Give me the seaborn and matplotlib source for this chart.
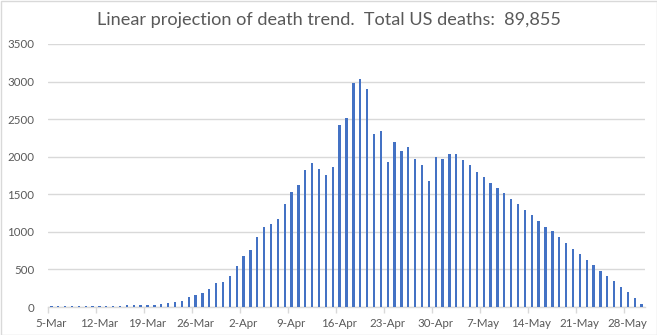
import numpy as np
import pandas as pd
import matplotlib
matplotlib.use("Agg")
import matplotlib.pyplot as plt
import matplotlib.transforms as mtransforms
import seaborn as sns

# ---- data ----
dates = pd.date_range("2020-03-05", "2020-05-30", freq="D")
deaths = [14, 15, 15, 16, 16, 17, 17, 18, 18, 19, 19, 20, 20, 21, 21, 22,
          40, 54, 67, 85, 134, 161, 188, 241, 322, 335, 415, 550,
          684, 765, 925, 1060, 1110, 1165, 1365, 1525, 1630, 1820, 1915, 1835, 1755, 1860,
          2420, 2515, 2975, 3040, 2905, 2300, 2340, 1935, 2200, 2070, 2125, 1965, 1895, 1680,
          1990, 1965, 2030, 2030, 1950, 1885, 1800, 1735, 1655, 1585, 1520, 1435, 1370, 1290,
          1220, 1140, 1070, 1005, 925, 855, 775, 705, 625, 560, 475, 410, 340, 260, 195, 115, 45]
tick_labels = ["5-Mar", "12-Mar", "19-Mar", "26-Mar", "2-Apr", "9-Apr", "16-Apr",
               "23-Apr", "30-Apr", "7-May", "14-May", "21-May", "28-May"]
y_ticks = [0, 500, 1000, 1500, 2000, 2500, 3000, 3500]
title = "Linear projection of death trend.  Total US deaths:  89,855"

df = pd.DataFrame({"date": [f"{d.day}-{d.strftime('%b')}" for d in dates], "deaths": deaths})

sns.set_theme(style="white")
plt.rcParams["font.family"] = ["Lato", "DejaVu Sans"]

fig = plt.figure(figsize=(6.57, 3.35), dpi=100)
ax = fig.add_axes([48 / 657, 1 - 307 / 335, (645 - 48) / 657, (307 - 44) / 335])

sns.barplot(data=df, x="date", y="deaths", color="#4472C4", saturation=1,
            width=0.34, ax=ax, zorder=3)
for p in ax.patches:
    p.set_antialiased(False)
    p.set_linewidth(0)

ax.set_ylim(0, 3500)
ax.set_xlim(-0.5, len(deaths) - 0.5)
ax.set_yticks(y_ticks)
ax.set_yticklabels([str(v) for v in y_ticks])
ax.set_xticks([-0.5 + 7 * k for k in range(len(tick_labels))])
ax.set_xticklabels(tick_labels)
ax.grid(axis="y", color="#d9d9d9", linewidth=1, zorder=0)
ax.grid(axis="x", visible=False)
ax.set_xlabel("")
ax.set_ylabel("")
for s in ["left", "right", "top"]:
    ax.spines[s].set_visible(False)
ax.spines["bottom"].set_color("#d9d9d9")
ax.spines["bottom"].set_linewidth(1)
ax.tick_params(axis="y", length=0, pad=10, labelsize=8.3, labelcolor="#595959")
ax.tick_params(axis="x", length=4, width=1, color="#d9d9d9", direction="out",
               pad=4, labelsize=8.3, labelcolor="#595959", bottom=True)
offset = mtransforms.ScaledTranslation(3 / 100, 0, fig.dpi_scale_trans)
for lab in ax.get_xticklabels():
    lab.set_transform(lab.get_transform() + offset)

fig.text(0.5, 1 - 20 / 335, title, ha="center", va="center", fontsize=13.1, color="#595959")

fig.patches.append(plt.Rectangle((0.5 / 657, 0.5 / 335), 1 - 1 / 657, 1 - 1 / 335,
                                 transform=fig.transFigure, fill=False,
                                 edgecolor="#d9d9d9", linewidth=1))

fig.savefig("out.png", dpi=100)
